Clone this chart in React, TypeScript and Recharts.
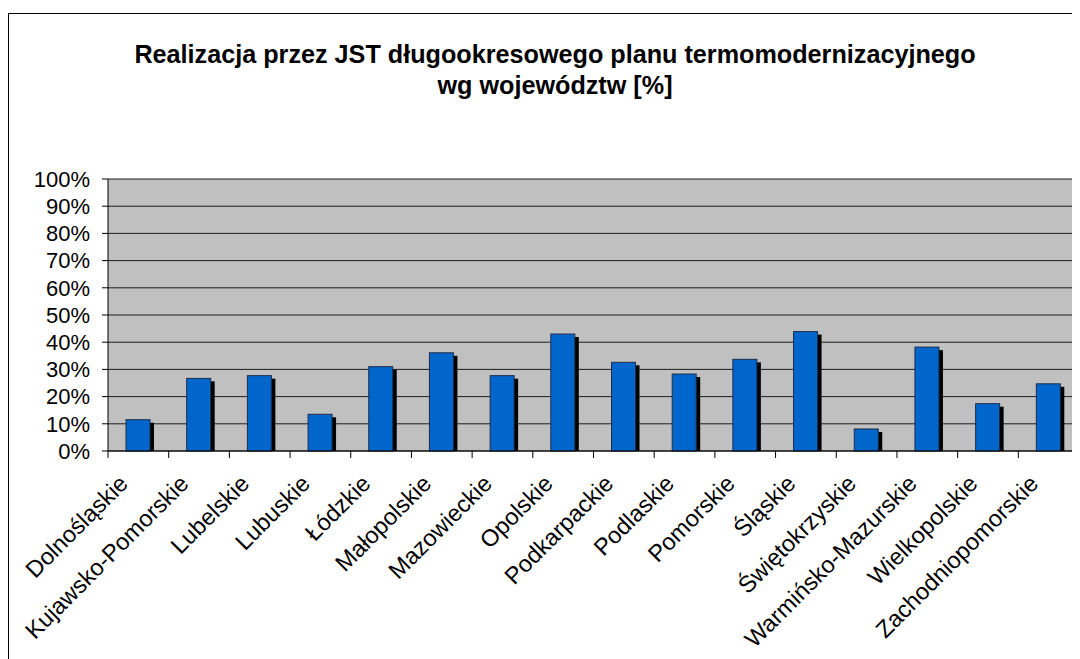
import { Bar, BarChart, CartesianGrid, XAxis, YAxis } from "recharts";

const REGIONS = [
  "Dolnośląskie",
  "Kujawsko-Pomorskie",
  "Lubelskie",
  "Lubuskie",
  "Łódzkie",
  "Małopolskie",
  "Mazowieckie",
  "Opolskie",
  "Podkarpackie",
  "Podlaskie",
  "Pomorskie",
  "Śląskie",
  "Świętokrzyskie",
  "Warmińsko-Mazurskie",
  "Wielkopolskie",
  "Zachodniopomorskie",
];

const SHARE = [
  11.5, 26.7, 27.7, 13.5, 31.0, 36.1, 27.7, 43.0, 32.6, 28.3, 33.7, 43.9, 8.1,
  38.2, 17.4, 24.7,
];

const Y_TICKS = [0, 10, 20, 30, 40, 50, 60, 70, 80, 90, 100];

const TITLE_LINES = [
  "Realizacja przez JST długookresowego planu termomodernizacyjnego",
  "wg województw [%]",
];

const FONT = '"Liberation Sans", Arial, sans-serif';

const chartData = REGIONS.map((name, i) => ({ name, value: SHARE[i] }));

// blue bar with a flat black drop shadow, like the old Excel look
function ShadowBar(props: any) {
  const { x, y, width, height } = props;
  if (height <= 0) return null;
  return (
    <g>
      <rect x={x + 4} y={y + 3} width={width} height={height - 3} fill="#000" />
      <rect
        x={x}
        y={y}
        width={width}
        height={height}
        fill="#0066CC"
        stroke="#1b2c4c"
        strokeWidth={1}
      />
    </g>
  );
}

// ticks sit between categories, labels rotated under the bar
function RegionTick(props: any) {
  const { x, y, payload, index, width, visibleTicksCount } = props;
  const step = width / visibleTicksCount;
  const left = x - step / 2;
  const lx = x - 9;
  const ly = y + 26;
  return (
    <g>
      <line x1={left} y1={y - 8} x2={left} y2={y - 1} stroke="#000" />
      {index === visibleTicksCount - 1 && (
        <line x1={x + step / 2} y1={y - 8} x2={x + step / 2} y2={y - 1} stroke="#000" />
      )}
      <text
        x={lx}
        y={ly}
        textAnchor="end"
        transform={`rotate(-45, ${lx}, ${ly})`}
        fontSize={23.5}
        fontFamily={FONT}
        fill="#000"
      >
        {payload.value}
      </text>
    </g>
  );
}

export default function App() {
  return (
    <div
      style={{
        position: "relative",
        width: 1072,
        height: 651,
        overflow: "hidden",
        fontFamily: FONT,
      }}
    >
      <div
        style={{
          position: "absolute",
          left: 0,
          top: 5,
          width: 1100,
          height: 700,
          borderTop: "1px solid #000",
          borderLeft: "1px solid #000",
        }}
      />
      <div
        style={{
          position: "absolute",
          left: 0,
          top: 31,
          width: 1094,
          textAlign: "center",
          fontWeight: "bold",
          fontSize: 25.2,
          lineHeight: "31px",
          color: "#000",
        }}
      >
        {TITLE_LINES.map((t) => (
          <div key={t}>{t}</div>
        ))}
      </div>
      <div style={{ position: "absolute", left: 0, top: 0 }}>
        <BarChart
          width={1072}
          height={651}
          data={chartData}
          margin={{ top: 171, right: 1, bottom: 0, left: 0 }}
          barSize={24}
        >
          <CartesianGrid
            vertical={false}
            stroke="#000"
            strokeOpacity={0.85}
            fill="#C0C0C0"
            fillOpacity={1}
          />
          <XAxis
            dataKey="name"
            height={208}
            interval={0}
            tickLine={false}
            axisLine={{ stroke: "#000" }}
            tick={<RegionTick />}
          />
          <YAxis
            width={100}
            domain={[0, 100]}
            ticks={Y_TICKS}
            interval={0}
            tickSize={6}
            tickMargin={12}
            tickFormatter={(v) => `${v}%`}
            axisLine={{ stroke: "#000" }}
            tickLine={{ stroke: "#000" }}
            tick={{ fill: "#000", fontSize: 22, fontFamily: FONT }}
          />
          <Bar
            dataKey="value"
            shape={<ShadowBar />}
            isAnimationActive={false}
          />
        </BarChart>
      </div>
    </div>
  );
}
